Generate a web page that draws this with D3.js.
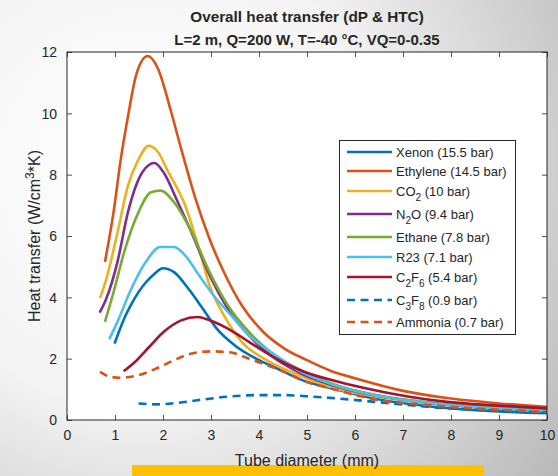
<!DOCTYPE html>
<html>
<head>
<meta charset="utf-8">
<script src="https://cdn.jsdelivr.net/npm/d3@7"></script>
<style>
  html, body { margin: 0; padding: 0; }
  body { width: 558px; height: 476px; overflow: hidden; }
  text { font-family: "Liberation Sans", Arial, Helvetica, sans-serif; fill: #262626; }
</style>
</head>
<body>
<svg id="chart" width="558" height="476"></svg>
<script>
// ---- data: [tube diameter (mm), heat transfer] ----
const xenon = [[0.99,2.49],[1.1,2.95],[1.19,3.3],[1.35,3.8],[1.49,4.17],[1.65,4.5],[1.79,4.72],[2.0,4.95],[2.23,4.82],[2.53,4.28],[2.83,3.63],[3.12,2.98],[3.49,2.44],[3.94,2.0],[4.38,1.68],[4.9,1.3],[5.65,0.98],[6.39,0.7],[7.13,0.52],[8.0,0.38],[9.0,0.28],[10,0.22]];
const ethylene = [[0.79,5.15],[0.97,6.78],[1.12,8.5],[1.27,9.9],[1.45,11.3],[1.68,11.87],[1.9,11.44],[2.16,10.1],[2.38,8.83],[2.68,7.2],[2.97,5.9],[3.27,4.82],[3.64,3.74],[4.09,2.87],[4.53,2.33],[5.0,1.95],[5.5,1.6],[6.0,1.36],[7.0,0.95],[8.0,0.7],[9.0,0.54],[10,0.43]];
const co2 = [[0.69,3.98],[0.82,4.6],[1.05,6.1],[1.27,7.64],[1.49,8.5],[1.7,8.94],[1.9,8.73],[2.08,8.18],[2.46,7.0],[2.75,5.58],[2.97,4.39],[3.27,3.41],[3.64,2.55],[4.16,1.95],[4.9,1.42],[5.65,1.0],[6.5,0.75],[7.5,0.55],[8.5,0.42],[10,0.3]];
const n2o = [[0.68,3.5],[0.82,3.96],[1.05,5.15],[1.27,6.78],[1.57,8.08],[1.82,8.38],[2.01,8.08],[2.31,7.1],[2.68,5.8],[2.97,4.72],[3.35,3.63],[3.79,2.76],[4.24,2.11],[4.9,1.5],[5.65,1.08],[6.5,0.78],[7.5,0.57],[8.5,0.43],[10,0.32]];
const ethane = [[0.79,3.2],[0.97,4.17],[1.19,5.47],[1.49,6.78],[1.75,7.43],[1.95,7.48],[2.23,7.1],[2.6,6.12],[2.97,4.82],[3.35,3.74],[3.79,2.87],[4.24,2.22],[4.9,1.6],[5.65,1.12],[6.5,0.8],[7.5,0.58],[8.5,0.44],[10,0.33]];
const r23 = [[0.88,2.63],[1.05,3.2],[1.34,4.28],[1.64,5.15],[1.94,5.64],[2.23,5.64],[2.46,5.37],[2.75,4.72],[3.05,4.07],[3.42,3.41],[3.79,2.76],[4.24,2.22],[4.9,1.55],[5.65,1.1],[6.5,0.78],[7.5,0.56],[8.5,0.42],[10,0.3]];
const c2f6 = [[1.18,1.59],[1.42,1.9],[1.71,2.38],[2.01,2.87],[2.38,3.25],[2.72,3.36],[2.97,3.25],[3.35,2.98],[3.79,2.55],[4.24,2.11],[4.9,1.6],[5.65,1.25],[6.39,0.98],[7.13,0.76],[7.87,0.6],[8.98,0.47],[10,0.38]];
const c3f8 = [[1.49,0.54],[1.86,0.51],[2.31,0.56],[2.75,0.65],[3.35,0.76],[3.94,0.81],[4.53,0.81],[5.13,0.76],[5.65,0.7],[6.16,0.63],[6.76,0.54],[7.5,0.43],[8.24,0.36],[9.13,0.29],[10,0.25]];
const ammonia = [[0.69,1.57],[0.9,1.41],[1.12,1.38],[1.49,1.46],[1.86,1.68],[2.23,1.95],[2.6,2.17],[3.05,2.24],[3.42,2.2],[3.79,2.0],[4.16,1.79],[4.53,1.57],[4.98,1.25],[5.5,1.03],[6.02,0.81],[6.46,0.65],[7.13,0.54],[8.24,0.4],[10,0.27]];

// legend labels: alternating normal / subscript parts
const labels = [
  ['Xenon (15.5 bar)'],
  ['Ethylene (14.5 bar)'],
  ['CO', '2', ' (10 bar)'],
  ['N', '2', 'O (9.4 bar)'],
  ['Ethane (7.8 bar)'],
  ['R23 (7.1 bar)'],
  ['C', '2', 'F', '6', ' (5.4 bar)'],
  ['C', '3', 'F', '8', ' (0.9 bar)'],
  ['Ammonia (0.7 bar)']
];
const xTicks = [0, 1, 2, 3, 4, 5, 6, 7, 8, 9, 10];
const yTicks = [0, 2, 4, 6, 8, 10, 12];

const series = [xenon, ethylene, co2, n2o, ethane, r23, c2f6, c3f8, ammonia];
const colors = ['#0072BD', '#D95319', '#EDB120', '#7E2F8E', '#77AC30', '#4DBEEE', '#A2142F', '#0072BD', '#D95319'];
const dashed = [false, false, false, false, false, false, false, true, true];

const svg = d3.select('#chart');
const W = 558, H = 476;
const m = { left: 67, right: 547, top: 52, bottom: 420 };

// background gradient
const defs = svg.append('defs');
const bg = defs.append('radialGradient')
  .attr('id', 'bg')
  .attr('gradientUnits', 'userSpaceOnUse')
  .attr('cx', 140).attr('cy', 170).attr('r', 520);
bg.append('stop').attr('offset', '0%').attr('stop-color', '#ffffff');
bg.append('stop').attr('offset', '45%').attr('stop-color', '#f4f4f4');
bg.append('stop').attr('offset', '100%').attr('stop-color', '#b8b8b8');
svg.append('rect').attr('width', W).attr('height', H).attr('fill', 'url(#bg)');

// yellow bar under the chart
svg.append('rect')
  .attr('x', 132).attr('y', 465).attr('width', 352).attr('height', 11)
  .attr('fill', '#FFC000');

const x = d3.scaleLinear().domain([0, 10]).range([m.left, m.right]);
const y = d3.scaleLinear().domain([0, 12]).range([m.bottom, m.top]);

svg.append('rect')
  .attr('x', m.left).attr('y', m.top)
  .attr('width', m.right - m.left).attr('height', m.bottom - m.top)
  .attr('fill', '#fff');

// curves
const clip = defs.append('clipPath').attr('id', 'plotclip');
clip.append('rect').attr('x', m.left).attr('y', m.top)
  .attr('width', m.right - m.left).attr('height', m.bottom - m.top);

const line = d3.line()
  .x(d => x(d[0]))
  .y(d => y(d[1]))
  .curve(d3.curveMonotoneX);

svg.append('g').attr('clip-path', 'url(#plotclip)')
  .selectAll('path')
  .data(series)
  .join('path')
    .attr('d', line)
    .attr('fill', 'none')
    .attr('stroke', (d, i) => colors[i])
    .attr('stroke-width', 2.6)
    .attr('stroke-linejoin', 'round')
    .attr('stroke-dasharray', (d, i) => (dashed[i] ? '8,5.5' : null));

// axes, MATLAB-like box with inward ticks
const axisColor = '#262626';
const tickLen = 5;
const fmt = d3.format('d');

const gx = svg.append('g').attr('transform', `translate(0,${m.bottom})`)
  .call(d3.axisBottom(x).tickValues(xTicks).tickSize(-tickLen).tickPadding(10).tickFormat(fmt));
const gxTop = svg.append('g').attr('transform', `translate(0,${m.top})`)
  .call(d3.axisTop(x).tickValues(xTicks).tickSize(-tickLen).tickFormat(''));
const gy = svg.append('g').attr('transform', `translate(${m.left},0)`)
  .call(d3.axisLeft(y).tickValues(yTicks).tickSize(-tickLen).tickPadding(10).tickFormat(fmt));
const gyRight = svg.append('g').attr('transform', `translate(${m.right},0)`)
  .call(d3.axisRight(y).tickValues(yTicks).tickSize(-tickLen).tickFormat(''));

[gx, gxTop, gy, gyRight].forEach((g) => {
  g.select('.domain').remove();
  g.selectAll('.tick line').attr('stroke', axisColor).attr('stroke-width', 0.8);
  g.selectAll('.tick text')
    .attr('fill', axisColor)
    .style('font-size', '14px')
    .style('font-family', '"Liberation Sans", Arial, sans-serif');
});
gy.selectAll('.tick text').attr('dy', '0.35em');

svg.append('rect')
  .attr('x', m.left).attr('y', m.top)
  .attr('width', m.right - m.left).attr('height', m.bottom - m.top)
  .attr('fill', 'none').attr('stroke', axisColor).attr('stroke-width', 1);

// axis labels
svg.append('text')
  .attr('x', (m.left + m.right) / 2).attr('y', 466)
  .attr('text-anchor', 'middle')
  .style('font-size', '16px')
  .text('Tube diameter (mm)');

const yl = svg.append('text')
  .attr('transform', `translate(40,${(m.top + m.bottom) / 2}) rotate(-90)`)
  .attr('text-anchor', 'middle')
  .style('font-size', '16px');
yl.append('tspan').text('Heat transfer (W/cm');
yl.append('tspan').attr('dy', -6).style('font-size', '12px').text('3');
yl.append('tspan').attr('dy', 6).text('*K)');

// title
svg.append('text')
  .attr('x', (m.left + m.right) / 2).attr('y', 22)
  .attr('text-anchor', 'middle')
  .style('font-size', '15.3px').style('font-weight', 'bold')
  .text('Overall heat transfer (dP & HTC)');
svg.append('text')
  .attr('x', (m.left + m.right) / 2).attr('y', 45)
  .attr('text-anchor', 'middle')
  .style('font-size', '15px').style('font-weight', 'bold')
  .text('L=2 m, Q=200 W, T=-40 °C, VQ=0-0.35');

// legend
const lg = svg.append('g');
lg.append('rect')
  .attr('x', 339.5).attr('y', 140.5).attr('width', 176).attr('height', 194)
  .attr('fill', '#fff').attr('stroke', axisColor).attr('stroke-width', 1);

const rowY = [152, 171, 191, 214, 237, 257, 277, 300, 322];
const rows = lg.selectAll('g.row')
  .data(labels)
  .join('g')
    .attr('class', 'row')
    .attr('transform', (d, i) => `translate(0,${rowY[i]})`);

rows.append('line')
  .attr('x1', 347).attr('x2', 392)
  .attr('stroke', (d, i) => colors[i])
  .attr('stroke-width', 2.6)
  .attr('stroke-dasharray', (d, i) => (dashed[i] ? '8,5.5' : null));

rows.append('text')
  .attr('x', 396).attr('y', 0).attr('dy', '0.35em')
  .style('font-size', '13px')
  .each(function (d) {
    const t = d3.select(this);
    d.forEach((part, k) => {
      const isSub = k % 2 === 1;
      t.append('tspan')
        .attr('dy', isSub ? 5 : (k > 0 ? -5 : null))
        .style('font-size', isSub ? '10px' : null)
        .text(part);
    });
  });
</script>
</body>
</html>
